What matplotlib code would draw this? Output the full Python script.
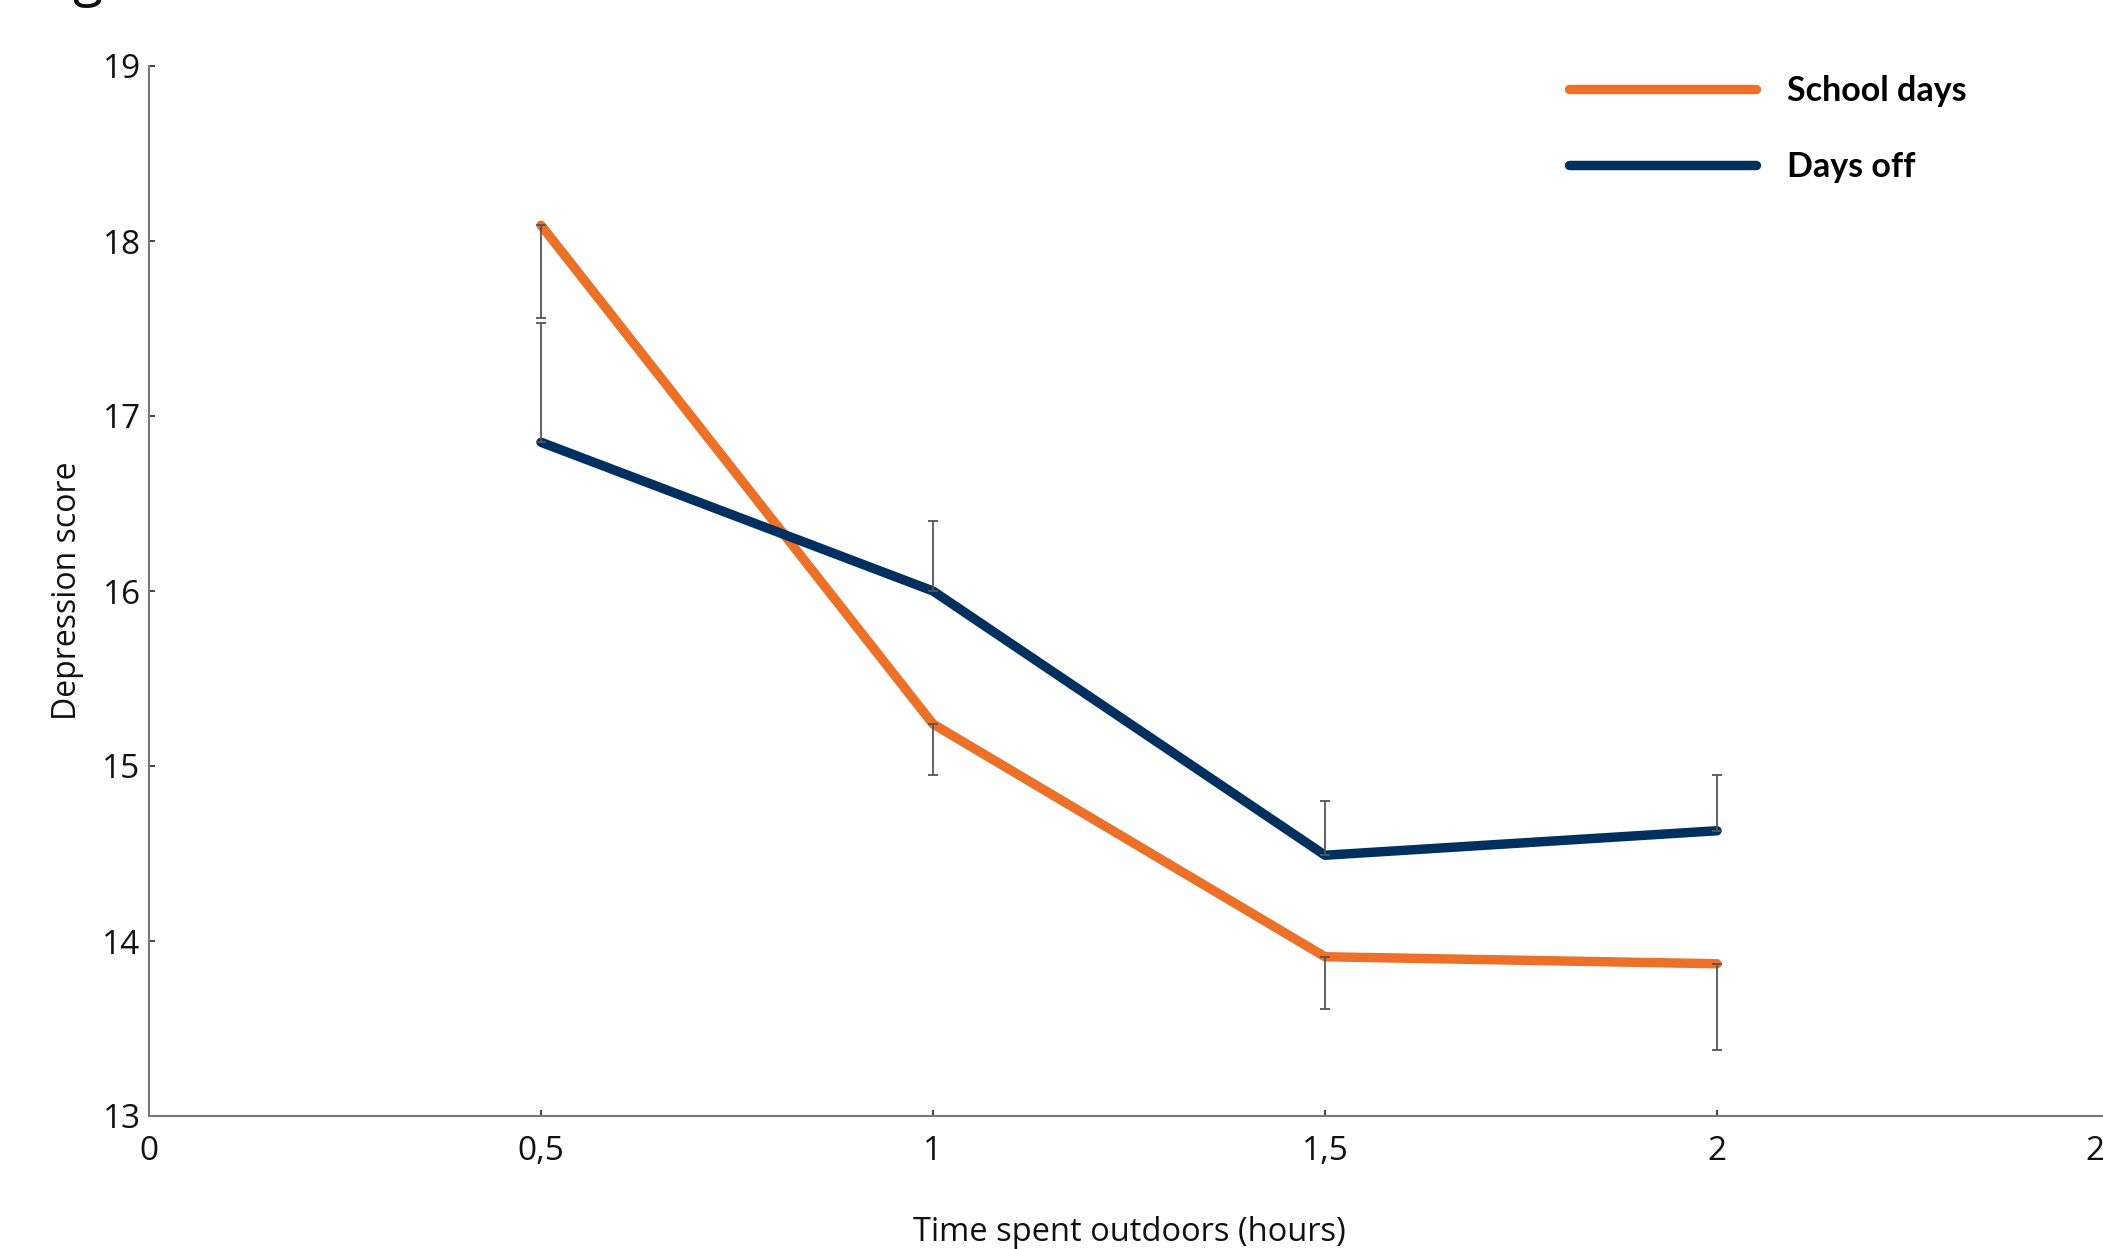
import matplotlib
matplotlib.use("Agg")
import matplotlib.pyplot as plt
from matplotlib.lines import Line2D

# data
hours = [0.5, 1.0, 1.5, 2.0]
school_days = [18.09, 15.24, 13.91, 13.87]
school_err = [0.53, 0.29, 0.30, 0.49]      # drawn downward only
days_off = [16.85, 16.00, 14.49, 14.63]
days_off_err = [0.68, 0.40, 0.31, 0.32]    # drawn upward only

x_ticks = [0, 0.5, 1, 1.5, 2, 2.5]
x_labels = ["0", "0,5", "1", "1,5", "2", "2,5"]
y_ticks = [13, 14, 15, 16, 17, 18, 19]

ORANGE = "#EC7027"
NAVY = "#00305F"
LW = 6.8

plt.rcParams["font.family"] = ["Open Sans", "DejaVu Sans"]

W, H = 2103, 1249
fig = plt.figure(figsize=(W / 100, H / 100), dpi=100)
# the original is cropped on the right, so the axes run past the figure edge
ax = fig.add_axes([149 / W, 133 / H, (2109 - 149) / W, (1116 - 66) / H])

ax.plot(hours, school_days, color=ORANGE, lw=LW, solid_capstyle="round",
        solid_joinstyle="round", zorder=2)
ax.plot(hours, days_off, color=NAVY, lw=LW, solid_capstyle="round",
        solid_joinstyle="round", zorder=2)
ax.errorbar(hours, school_days, yerr=[school_err, [0] * 4], fmt="none",
            ecolor="#555555", elinewidth=1.3, capsize=3.5, capthick=1.3, zorder=3)
ax.errorbar(hours, days_off, yerr=[[0] * 4, days_off_err], fmt="none",
            ecolor="#555555", elinewidth=1.3, capsize=3.5, capthick=1.3, zorder=3)

ax.set_xlim(0, 2.5)
ax.set_ylim(13, 19)
ax.set_xticks(x_ticks)
ax.set_xticklabels(x_labels)
ax.set_yticks(y_ticks)

for s in ["top", "right"]:
    ax.spines[s].set_visible(False)
for s in ["left", "bottom"]:
    ax.spines[s].set_color("#777777")
    ax.spines[s].set_linewidth(1.5)
ax.tick_params(axis="both", direction="in", length=4, width=1.2, color="#222222",
               labelsize=24, labelcolor="#111111")
ax.tick_params(axis="x", pad=14)
ax.tick_params(axis="y", pad=6)

ax.set_xlabel("Time spent outdoors (hours)", fontsize=23.5, labelpad=34, color="#111111")
ax.set_ylabel("Depression score", fontsize=23, labelpad=13, color="#111111")

handles = [Line2D([], [], color=ORANGE, lw=LW, solid_capstyle="round"),
           Line2D([], [], color=NAVY, lw=LW, solid_capstyle="round")]
leg = fig.legend(handles, ["School days", "Days off"], loc="upper left",
                 bbox_to_anchor=(1569 / W, 1 - 75 / H), frameon=False,
                 borderpad=0, borderaxespad=0, handlelength=5.5,
                 handletextpad=0.9, labelspacing=1.3,
                 prop={"family": "Lato", "weight": "bold", "size": 24.5})

# descender of a cropped heading letter at the very top
fig.text(72 / W, 1 + 6 / H, "g", fontsize=40, va="baseline", ha="left",
         color="#111111")

fig.savefig("out.png", dpi=100)
